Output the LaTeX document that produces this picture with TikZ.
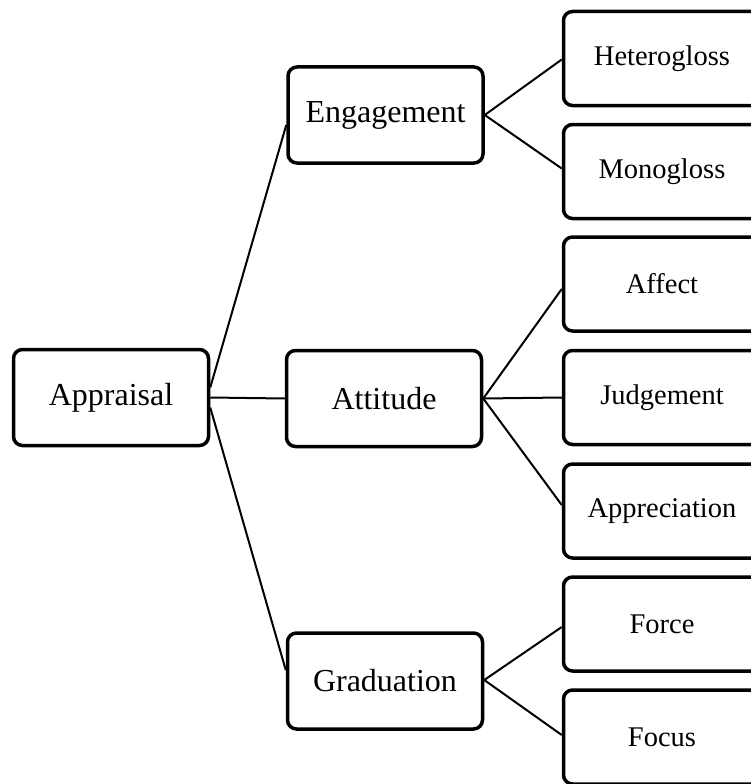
\documentclass[tikz,border=0pt]{standalone}
\usepackage{fontspec}
\setmainfont{Liberation Serif}
\begin{document}
\begin{tikzpicture}[x=1pt,y=-1pt,
  box/.style={draw=black,line width=3.5pt,rounded corners=9pt,fill=white,
    minimum width=195pt,minimum height=96pt,inner sep=0pt,anchor=center},
  bigtext/.style={font=\fontsize{32}{38}\selectfont},
  smalltext/.style={font=\fontsize{28.5}{34}\selectfont},
  leaf/.style={box,smalltext,minimum width=197pt,minimum height=94pt},
  link/.style={draw=black,line width=2pt}]
\useasboundingbox (0,0) rectangle (751,784);
\clip (0,0) rectangle (751,784);
% connectors first
\coordinate (dummy) at (0,0);
% nodes
\node[box,bigtext] (ap) at (111,397.5) {Appraisal};
\node[box,bigtext] (en) at (385.5,115) {Engagement};
\node[box,bigtext] (at) at (384,398.5) {Attitude};
\node[box,bigtext] (gr) at (385,681) {Graduation};
\node[leaf] (he) at (662,58.5) {Heterogloss};
\node[leaf] (mo) at (662,171.5) {Monogloss};
\node[leaf] (af) at (662,284) {Affect};
\node[leaf] (ju) at (662,397.5) {Judgement};
\node[leaf] (apr) at (662,511) {Appreciation};
\node[leaf] (fo) at (662,624) {Force};
\node[leaf] (fc) at (662,737) {Focus};
% connectors
\draw[link] ([yshift=10pt]ap.east) -- ([yshift=-10pt]en.west);
\draw[link] (ap.east) -- (at.west);
\draw[link] ([yshift=-10pt]ap.east) -- ([yshift=11pt]gr.west);
\draw[link] (en.east) -- ([yshift=-1pt]he.west);
\draw[link] (en.east) -- ([yshift=3pt]mo.west);
\draw[link] (at.east) -- ([yshift=-5pt]af.west);
\draw[link] (at.east) -- (ju.west);
\draw[link] (at.east) -- ([yshift=6pt]apr.west);
\draw[link] ([yshift=1pt]gr.east) -- ([yshift=-3pt]fo.west);
\draw[link] ([yshift=1pt]gr.east) -- ([yshift=2pt]fc.west);
\end{tikzpicture}
\end{document}
